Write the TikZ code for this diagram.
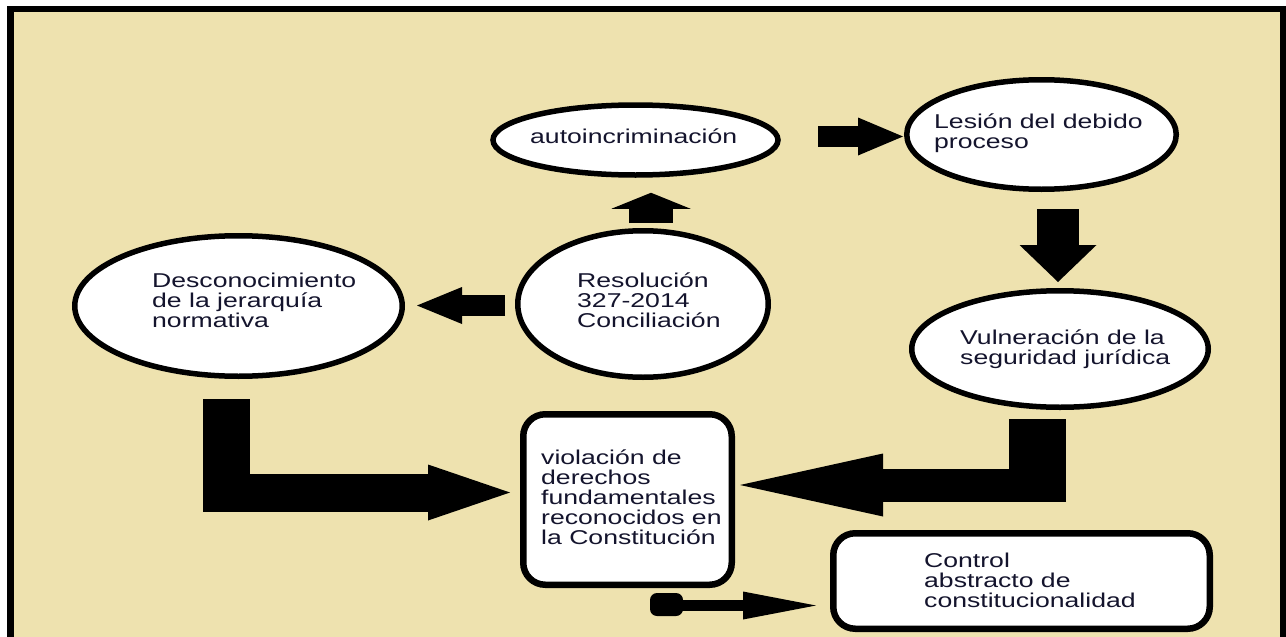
\documentclass[tikz,border=0pt]{standalone}
\usepackage{fontspec}
\setmainfont[FakeStretch=1.33]{Liberation Sans}
\usetikzlibrary{arrows.meta,shapes.geometric,calc}
\definecolor{bg}{RGB}{238,226,175}
\definecolor{ink}{RGB}{20,20,45}
\begin{document}
\begin{tikzpicture}[x=1pt,y=-1pt,
  shp/.style={draw=black, fill=white, line width=5.5pt, inner sep=0pt},
  ell/.style={shp, ellipse},
  rbox/.style={shp, rectangle, rounded corners=22pt, line width=6.5pt},
  txt/.style={anchor=base west, inner sep=0pt, align=left, text=ink, font=\fontsize{20}{20}\selectfont},
  blk/.style={draw=black},
  head/.style n args={2}{-{Triangle[length=#1pt, width=#2pt, line width=0pt]}}]
\fill[white] (0,0) rectangle (1286,637);
\useasboundingbox (0,0) rectangle (1286,637);
\clip (0,0) rectangle (1286,637);
\draw[line width=6.5pt, fill=bg] (10.5,9) rectangle (1283,700);

% shapes
\node[ell, minimum width=285pt, minimum height=70pt] (auto) at (635.5,140) {};
\node[ell, minimum width=269.5pt, minimum height=109.5pt] (les) at (1041.5,134.5) {};
\node[ell, minimum width=250.5pt, minimum height=146.5pt] (res) at (643,304) {};
\node[ell, minimum width=327.5pt, minimum height=140.5pt] (desc) at (238.5,306) {};
\node[ell, minimum width=296.5pt, minimum height=116.5pt] (vul) at (1060,349) {};
\node[rbox, minimum width=208.5pt, minimum height=170.5pt] (viol) at (627.5,499.5) {};
\node[rbox, minimum width=376.5pt, minimum height=95.5pt] (ctrl) at (1021.5,581) {};

% texts (anchor at baseline of the last line)
\node[txt] (autot) at (530,143) {autoincriminación};
\node[txt] (lest) at (934,148) {Lesión del debido\\proceso};
\node[txt] (rest) at (577,327) {Resolución\\327-2014\\Conciliación};
\node[txt] (desct) at (152,327) {Desconocimiento\\de la jerarquía\\normativa};
\node[txt] (vult) at (960,364) {Vulneración de la\\seguridad jurídica};
\node[txt] (violt) at (541,544) {violación de\\derechos\\fundamentales\\reconocidos en\\la Constitución};
\node[txt] (ctrlt) at (924,607) {Control\\abstracto de\\constitucionalidad};

% arrows
\draw[blk, line width=44pt, head={16}{79}] ($(res.north)+(8,-5)$) -- ($(auto.south)+(15.5,15)$);
\draw[blk, line width=21pt, head={45}{37}] ($(res.west)+(-10,1.5)$) -- ($(desc.east)+(12,-0.5)$);
\draw[blk, line width=21pt, head={45}{38}] ($(auto.east)+(37.25,-3.5)$) -- ($(les.west)+(-1,2)$);
\draw[blk, line width=42pt, head={37}{77}] ($(les.south)+(16.5,17)$) -- ($(vul.north)+(-2,-6)$);

\draw[blk, line width=47pt] ($(desc.south)+(-12,20)$) -- ($(desc.south)+(-12,133)$);
\draw[blk, line width=38pt, head={82}{56}] ($(desc.south)+(-35.5,113.5)$) -- ($(viol.west)+(-10,-7)$);

\draw[blk, line width=57pt] ($(vul.south)+(-22.5,9)$) -- ($(vul.south)+(-22.5,91)$);
\draw[blk, line width=33pt, head={143}{63}] ($(vul.south)+(6,75)$) -- ($(viol.east)+(5,-14.5)$);

\fill[black, rounded corners=7pt] ($(viol.south)+(22.5,5)$) rectangle ($(viol.south)+(55.5,28)$);
\draw[blk, line width=11.5pt, head={73}{28}] ($(viol.south)+(42.5,17.5)$) -- ($(ctrl.west)+(-14,24.5)$);
\end{tikzpicture}
\end{document}
